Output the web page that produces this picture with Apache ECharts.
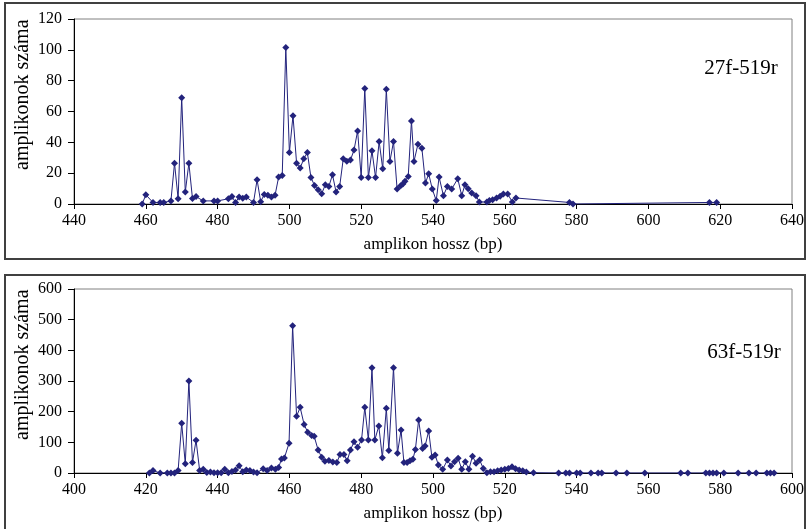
<!DOCTYPE html>
<html>
<head>
<meta charset="utf-8">
<script src="https://cdn.jsdelivr.net/npm/echarts@6/dist/echarts.min.js"></script>
<style>html,body{margin:0;padding:0;background:#fff;}#c{width:810px;height:529px;}</style>
</head>
<body>
<div id="c"></div>
<script>
// Top chart: 27f-519r
var topLabel = '27f-519r';
var topX = [459,460,462,464,465,467,468,469,470,471,472,473,474,476,479,480,483,484,485,486,487,488,490,491,492,493,494,495,496,497,498,499,500,501,502,503,504,505,506,507,508,509,510,511,512,513,514,515,516,517,518,519,520,521,522,523,524,525,526,527,528,529,530,531,531.6,532.2,533.1,534,534.7,535.8,536.9,537.9,538.8,539.8,540.9,541.7,542.9,544,545.2,546.9,548,548.9,549.8,550.8,552,552.9,555,555.7,556.6,557.7,558.7,559.6,560.8,562.1,563.1,578,579,617,619];
var topY = [0,6,1,1,1,2,26.5,3.4,69,7.8,26.5,3.5,4.8,2,2,2,3.4,4.8,1,4.5,3.8,4.5,1,15.7,1.5,6.2,5.6,4.5,5.6,17.5,18.5,101.5,33.4,57.3,26.5,23.3,29.3,33.4,17.2,12,9.3,6.7,12.5,11.4,19,7.8,11.4,29.3,27.8,28.5,35,47.4,17.2,75,17.2,34.5,17.2,40.5,22.8,74.4,27.6,40.5,9.7,11.9,13,14.7,17.9,53.9,27.6,38.8,36.2,13.6,19.6,9.7,2.2,17.5,5.4,11.4,9.7,16.4,5.4,12.5,9.9,7.1,5.4,1.3,1.3,2.2,2.8,3.9,5,6.5,6.5,1.3,3.9,1,0,1,1];
var topXTicks = {min:440, max:640, interval:20};
var topYTicks = {min:0, max:120, interval:20};

// Bottom chart: 63f-519r
var botLabel = '63f-519r';
var botX = [421,422,424,426,427,428,429,430,431,432,433,434,435,436,437,438,439,440,441,442,443,444,445,446,447,448,449,450,451,452.7,453.8,455,456.1,457,457.8,458.6,459.9,460.9,462,463,464.1,465.1,466.2,466.9,468,469,469.9,471,472.1,473.2,474.1,475.2,476.1,477,478,479,480.1,481,482,483,483.8,484.9,485.9,487,487.7,489,490.1,491.1,491.9,492.8,493.6,494.4,495.1,496,497.1,497.8,498.8,499.7,500.6,501.5,502.7,504,505,506,507,508,509,510,511,512,513,514,515,516,517,518,519,520,521,522,523,524,525,526,528,535,537,538,540,541,544,546,547,551,554,559,569,571,576,577,578,579,581,585,588,590,593,594,595];
var botY = [0,8,0,0,0,0,8,162,30,300,34,107,8,12,2,3,1,1,1,12,1,5,10,24,4,10,8,3,1,14,8,16,12,18,46,49,97,480,185,214,158,133,122,120,75,51,38,41,36,34,60,60,40,75,102,84,108,214,108,343,108,153,50,211,73,343,64,140,34,34,40,45,77,173,80,88,137,51,59,26,12,42,23,37,48,12,37,12,55,32,42,15,1,4,4,7,10,12,15,20,14,10,7,3,1,0,0,0,0,0,0,0,0,0,0,0,0,0,0,0,0,0,0,0,0,0,0,0,0];
var botXTicks = {min:400, max:600, interval:20};
var botYTicks = {min:0, max:600, interval:100};

var xTitle = 'amplikon hossz (bp)';
var yTitle = 'amplikonok száma';

function pairs(xs, ys){ var r=[]; for(var i=0;i<xs.length;i++) r.push([xs[i], ys[i]]); return r; }

var FONT = 'Liberation Serif, Times New Roman, serif';
var NAVY = '#23237c';

function xAxisDef(g, t){
  return {gridIndex:g, type:'value', min:t.min, max:t.max, interval:t.interval,
    axisLine:{onZero:false, lineStyle:{color:'#000', width:1}},
    axisTick:{show:true, length:5, lineStyle:{color:'#000'}},
    axisLabel:{color:'#000', fontFamily:FONT, fontSize:16, margin:9},
    splitLine:{show:false},
    name:xTitle, nameLocation:'middle', nameGap:32,
    nameTextStyle:{color:'#000', fontFamily:FONT, fontSize:17}};
}
function yAxisDef(g, t){
  return {gridIndex:g, type:'value', min:t.min, max:t.max, interval:t.interval,
    axisLine:{show:true, onZero:false, lineStyle:{color:'#000', width:1}},
    axisTick:{show:true, length:6, lineStyle:{color:'#000'}},
    axisLabel:{color:'#000', fontFamily:FONT, fontSize:16, margin:12},
    splitLine:{show:false}};
}
function seriesDef(g, xs, ys){
  return {type:'line', xAxisIndex:g, yAxisIndex:g, data:pairs(xs, ys),
    symbol:'diamond', symbolSize:7, showAllSymbol:true,
    lineStyle:{color:NAVY, width:1}, itemStyle:{color:NAVY}, animation:false};
}

var chart = echarts.init(document.getElementById('c'), null, {renderer:'canvas'});
chart.setOption({
  animation:false,
  backgroundColor:'#fff',
  grid:[
    {left:74, right:18, top:19, height:185, show:true, borderColor:'#808080', borderWidth:1, backgroundColor:'transparent'},
    {left:74, right:18, top:289, height:184, show:true, borderColor:'#808080', borderWidth:1, backgroundColor:'transparent'}
  ],
  xAxis:[xAxisDef(0, topXTicks), xAxisDef(1, botXTicks)],
  yAxis:[yAxisDef(0, topYTicks), yAxisDef(1, botYTicks)],
  series:[seriesDef(0, topX, topY), seriesDef(1, botX, botY)],
  graphic:[
    {type:'rect', shape:{x:5, y:3, width:800, height:256}, style:{fill:null, stroke:'#404040', lineWidth:2}, z:-1},
    {type:'rect', shape:{x:5, y:275, width:800, height:265}, style:{fill:null, stroke:'#404040', lineWidth:2}, z:-1},
    {type:'text', x:741, y:68, style:{text:topLabel, fontFamily:FONT, fontSize:21, fill:'#000', align:'center', verticalAlign:'middle'}},
    {type:'text', x:744, y:352, style:{text:botLabel, fontFamily:FONT, fontSize:21, fill:'#000', align:'center', verticalAlign:'middle'}},
    {type:'text', x:23, y:170, rotation:Math.PI/2, style:{text:yTitle, fontFamily:FONT, fontSize:20, fill:'#000', align:'left', verticalAlign:'middle', width:152, overflow:'truncate', ellipsis:''}},
    {type:'text', x:23, y:440, rotation:Math.PI/2, style:{text:yTitle, fontFamily:FONT, fontSize:20, fill:'#000', align:'left', verticalAlign:'middle', width:155, overflow:'truncate', ellipsis:''}}
  ]
});
</script>
</body>
</html>
